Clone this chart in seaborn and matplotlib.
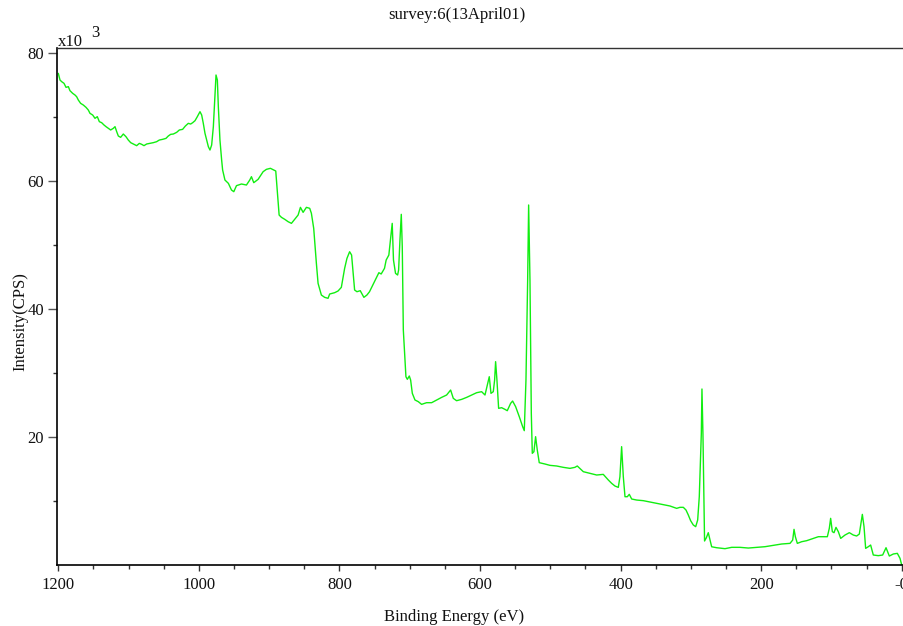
import numpy as np
import pandas as pd
import matplotlib
matplotlib.use("Agg")
import matplotlib.pyplot as plt
import seaborn as sns
from matplotlib.ticker import FixedLocator, NullFormatter

# ---- data (binding energy in eV, intensity in 10^3 CPS) ----
energy = [
    1200.0, 1197.6, 1195.2, 1191.9, 1189.0, 1185.7, 1183.4, 1179.6, 1176.2, 1173.9,
    1171.5, 1168.2, 1164.4, 1160.6, 1157.3, 1154.9, 1151.1, 1147.8, 1144.5, 1141.6,
    1138.3, 1135.0, 1132.1, 1128.8, 1125.5, 1121.7, 1119.3, 1116.9, 1114.6, 1111.3,
    1107.5, 1103.7, 1100.4, 1097.0, 1093.3, 1088.5, 1084.7, 1081.4, 1078.1, 1074.3,
    1069.6, 1064.8, 1060.1, 1056.3, 1051.5, 1046.8, 1043.5, 1040.1, 1036.3, 1031.6,
    1027.8, 1023.1, 1019.2, 1015.0, 1011.7, 1008.8, 1005.5, 1002.2, 998.4, 996.0,
    993.7, 991.3, 988.9, 986.5, 984.2, 981.8, 979.4, 977.0, 975.6, 973.7,
    972.3, 970.0, 967.6, 966.2, 962.9, 958.0, 953.6, 950.3, 946.5, 939.4,
    932.3, 927.6, 925.2, 921.9, 915.7, 908.6, 903.9, 898.2, 893.4, 890.6,
    889.6, 885.8, 882.5, 877.8, 873.0, 868.3, 863.6, 858.8, 855.5, 851.7,
    847.0, 842.3, 839.9, 836.6, 832.8, 830.4, 825.7, 821.0, 816.2, 813.9,
    806.8, 802.0, 797.3, 792.6, 789.3, 785.5, 782.7, 778.4, 775.1, 770.4,
    765.2, 760.9, 757.2, 750.1, 743.9, 740.6, 735.9, 733.5, 729.7, 724.9,
    723.1, 720.2, 717.2, 715.8, 713.9, 712.0, 710.6, 709.1, 705.4, 703.4,
    700.6, 698.7, 696.3, 692.5, 687.8, 683.1, 676.0, 668.8, 661.7, 654.6,
    647.5, 641.8, 638.0, 633.3, 626.1, 619.0, 611.9, 604.8, 597.7, 592.9,
    589.6, 586.8, 584.4, 581.1, 579.2, 577.8, 575.9, 573.5, 569.2, 564.5,
    561.2, 556.4, 553.6, 549.3, 544.1, 539.3, 537.0, 534.6, 532.2, 530.8,
    528.9, 527.0, 525.6, 523.3, 520.9, 518.5, 515.7, 507.6, 500.5, 491.0,
    481.5, 472.0, 464.9, 461.6, 453.0, 443.5, 434.0, 424.6, 417.4, 412.7,
    408.0, 403.2, 400.9, 398.5, 396.1, 393.7, 390.4, 387.6, 384.2, 377.1,
    367.6, 358.1, 348.6, 339.2, 329.7, 320.2, 315.5, 310.7, 306.9, 303.6,
    300.3, 296.5, 293.1, 290.3, 288.0, 285.1, 284.2, 282.8, 280.5, 278.0,
    275.2, 270.4, 263.3, 251.4, 241.9, 230.1, 218.2, 206.4, 194.5, 182.7,
    170.8, 158.9, 155.1, 153.2, 151.3, 148.5, 142.3, 135.2, 125.7, 118.6,
    105.8, 103.0, 101.1, 98.7, 96.3, 93.5, 90.2, 86.8, 80.7, 74.5,
    68.8, 64.1, 60.3, 56.0, 53.6, 51.3, 47.5, 44.2, 40.4, 33.3,
    27.1, 22.3, 17.6, 11.9, 6.2, 2.4, 0.0, -2.0,
]
intensity = [
    76.87, 75.83, 75.57, 75.31, 74.68, 74.79, 74.16, 73.75, 73.48, 73.22,
    72.70, 72.18, 71.92, 71.56, 71.14, 70.62, 70.36, 69.84, 70.10, 69.32,
    69.16, 68.80, 68.54, 68.28, 68.02, 68.28, 68.54, 67.75, 67.08, 66.87,
    67.39, 66.97, 66.45, 66.04, 65.83, 65.57, 65.93, 65.78, 65.57, 65.83,
    65.93, 66.04, 66.19, 66.45, 66.56, 66.71, 67.08, 67.34, 67.39, 67.65,
    68.02, 68.12, 68.64, 69.06, 68.95, 69.16, 69.47, 70.10, 70.88, 70.36,
    69.06, 67.50, 66.45, 65.41, 64.89, 65.67, 68.54, 73.75, 76.61, 75.83,
    71.66, 66.45, 63.33, 61.77, 60.20, 59.68, 58.64, 58.38, 59.32, 59.58,
    59.42, 60.20, 60.72, 59.79, 60.31, 61.50, 61.87, 62.03, 61.77, 61.61,
    60.20, 54.73, 54.37, 54.06, 53.69, 53.43, 54.06, 54.73, 55.93, 55.15,
    55.93, 55.78, 55.00, 52.65, 47.18, 44.06, 42.23, 41.87, 41.72, 42.39,
    42.60, 42.86, 43.43, 46.40, 47.96, 49.00, 48.48, 43.02, 42.75, 42.91,
    41.87, 42.23, 42.75, 44.32, 45.72, 45.52, 46.40, 47.70, 48.48, 53.43,
    47.70, 45.62, 45.36, 46.14, 50.83, 54.84, 49.79, 36.77, 29.47, 29.06,
    29.58, 28.95, 26.87, 25.83, 25.57, 25.15, 25.41, 25.41, 25.83, 26.24,
    26.61, 27.39, 26.09, 25.72, 25.93, 26.24, 26.61, 26.97, 27.13, 26.61,
    28.12, 29.47, 26.87, 27.13, 28.95, 31.82, 28.95, 24.53, 24.63, 24.37,
    24.16, 25.31, 25.67, 24.79, 23.22, 21.66, 21.04, 28.95, 44.58, 56.30,
    44.58, 23.75, 17.50, 17.75, 20.10, 18.02, 16.04, 15.83, 15.62, 15.52,
    15.31, 15.15, 15.31, 15.52, 14.63, 14.37, 14.11, 14.21, 13.33, 12.81,
    12.39, 12.18, 13.85, 18.54, 13.85, 10.72, 10.72, 11.09, 10.36, 10.20,
    10.10, 9.89, 9.68, 9.47, 9.27, 8.90, 9.06, 9.06, 8.64, 7.86,
    6.97, 6.30, 6.04, 7.08, 10.72, 20.60, 27.55, 20.60, 3.80, 4.30,
    5.10, 2.90, 2.75, 2.60, 2.81, 2.81, 2.70, 2.81, 2.91, 3.12,
    3.33, 3.43, 3.95, 5.62, 4.47, 3.43, 3.69, 3.85, 4.21, 4.47,
    4.47, 5.78, 7.34, 5.26, 5.10, 5.93, 5.26, 4.21, 4.73, 5.10,
    4.73, 4.58, 4.89, 7.96, 6.04, 2.65, 2.91, 3.17, 1.61, 1.51,
    1.61, 2.75, 1.45, 1.77, 1.87, 1.09, 0.05, -0.40,
]

x_major = [1200, 1000, 800, 600, 400, 200, 0]
x_major_labels = ["1200", "1000", "800", "600", "400", "200", "-0"]
x_minor = [1150, 1100, 1050, 950, 900, 850, 750, 700, 650, 550, 500, 450,
           350, 300, 250, 150, 100, 50]
y_major = [20, 40, 60, 80]
y_major_labels = ["20", "40", "60", "80"]
y_minor = [10, 30, 50, 70]

title_text = "survey:6(13April01)"
x_label = "Binding Energy (eV)"
y_label = "Intensity(CPS)"

df = pd.DataFrame({"energy": energy, "intensity": intensity})

sns.set_style("ticks")
plt.rcParams["font.family"] = ["Liberation Serif", "DejaVu Serif"]

W, H = 904, 626
fig = plt.figure(figsize=(W / 100, H / 100), dpi=100)
ax = fig.add_axes([57 / W, 1 - 565 / H, 1 - 57 / W, (565 - 48) / H])

sns.lineplot(data=df, x="energy", y="intensity", ax=ax, sort=False,
             estimator=None, color="#11ee11", linewidth=1.0)

ax.set_xlim(1201.85, -3.27)
ax.set_ylim(0.05, 80.83)

ax.xaxis.set_major_locator(FixedLocator(x_major))
ax.set_xticklabels(x_major_labels)
ax.xaxis.set_minor_locator(FixedLocator(x_minor))
ax.xaxis.set_minor_formatter(NullFormatter())
ax.yaxis.set_major_locator(FixedLocator(y_major))
ax.set_yticklabels(y_major_labels)
ax.yaxis.set_minor_locator(FixedLocator(y_minor))
ax.yaxis.set_minor_formatter(NullFormatter())

ax.tick_params(axis="x", which="major", direction="out", length=4.5, width=1.0,
               color="#333333", labelsize=12, pad=4, labelcolor="#111111")
ax.tick_params(axis="x", which="minor", direction="out", length=3, width=1.0,
               color="#333333")
ax.tick_params(axis="y", which="major", direction="out", length=6.5, width=1.0,
               color="#555555", labelsize=12, pad=3, labelcolor="#111111")
ax.tick_params(axis="y", which="minor", direction="out", length=3, width=1.0,
               color="#333333")

for side in ["left", "bottom"]:
    ax.spines[side].set_color("#000000")
    ax.spines[side].set_linewidth(1.2)
ax.spines["top"].set_visible(True)
ax.spines["top"].set_color("#333333")
ax.spines["top"].set_linewidth(1.0)
ax.spines["right"].set_visible(False)

ax.set_xlabel("")
ax.set_ylabel("")

fig.text(457 / W, 1 - 15 / H, title_text, ha="center", va="center",
         fontsize=12, color="#111111")
fig.text(454 / W, 1 - 617 / H, x_label, ha="center", va="center",
         fontsize=12, color="#111111")
fig.text(20 / W, 1 - 322 / H, y_label, ha="center", va="center",
         rotation=90, fontsize=12, color="#111111")
fig.text(58 / W, 1 - 42 / H, "x10", ha="left", va="center",
         fontsize=12, color="#111111")
fig.text(91 / W, 1 - 33 / H, "3", ha="left", va="center",
         fontsize=12, color="#111111")

fig.savefig("out.png", dpi=100)
